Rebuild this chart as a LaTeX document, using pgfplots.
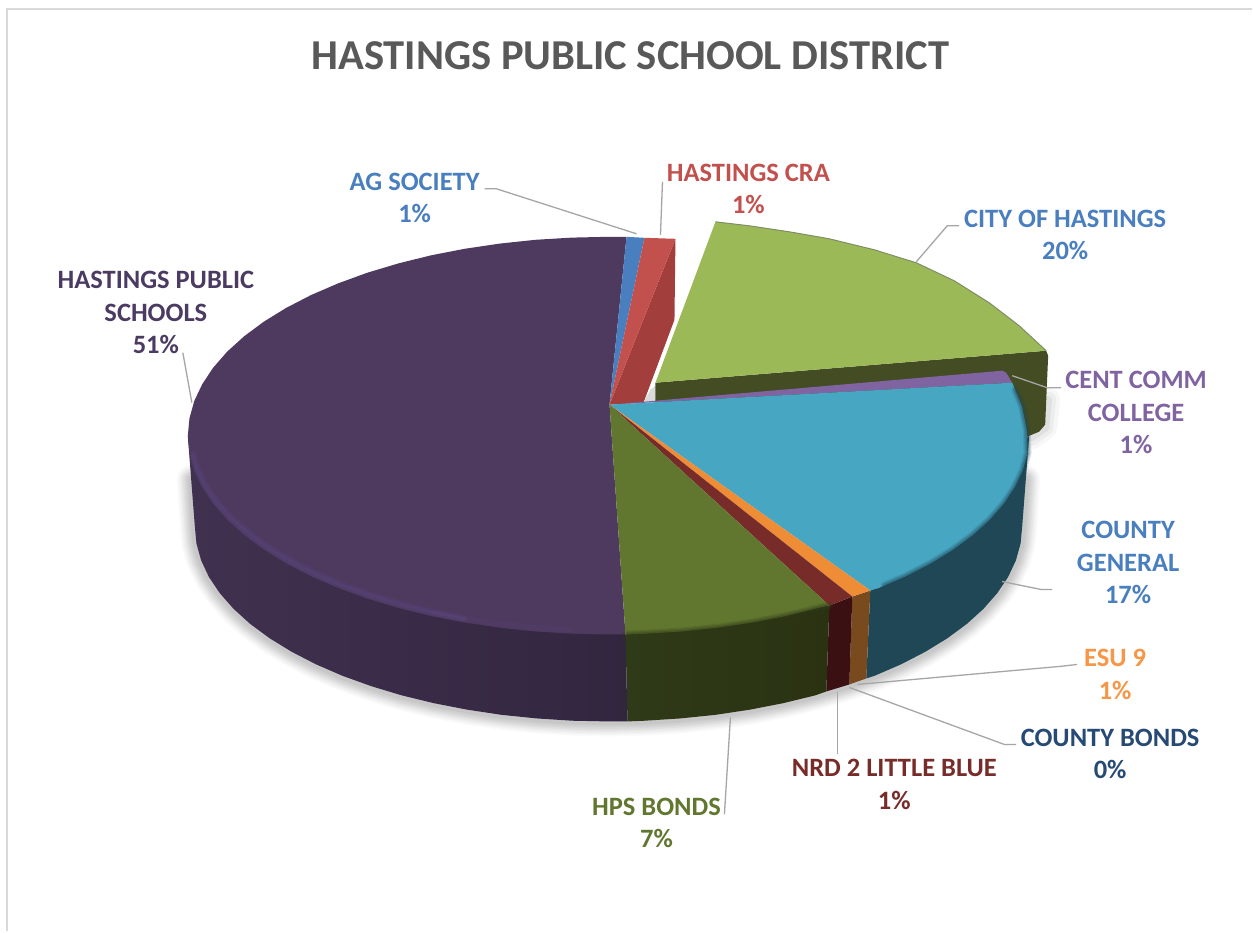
\documentclass[border=0pt]{standalone}
\usepackage{pgfplots}
\usepackage{fontspec}
\setmainfont{Carlito}
\pgfplotsset{compat=1.18}
\tikzset{lab/.style={font=\bfseries\fontsize{26.5}{32.5}\selectfont, align=center, inner sep=0pt}}

\definecolor{frame}{HTML}{D9D9D9}
\definecolor{leader}{HTML}{A6A6A6}
\definecolor{titlegray}{HTML}{595959}
\definecolor{pubTop}{HTML}{4E3A5F}
\definecolor{pubWallL}{HTML}{413150}
\definecolor{pubWallR}{HTML}{32263F}
\definecolor{pubGlow}{HTML}{5E4A85}
\definecolor{agBlue}{HTML}{4A7FBF}
\definecolor{craTop}{HTML}{C2504D}
\definecolor{craWall}{HTML}{A23E3B}
\definecolor{cityTop}{HTML}{9BBA57}
\definecolor{cityEdge}{HTML}{7F8C66}
\definecolor{cityWall}{HTML}{434C22}
\definecolor{collegeTop}{HTML}{8064A2}
\definecolor{genTop}{HTML}{47A7C3}
\definecolor{genWall}{HTML}{1F4756}
\definecolor{esuTop}{HTML}{EF8C36}
\definecolor{esuWall}{HTML}{7A4A1F}
\definecolor{nrdTop}{HTML}{772C2A}
\definecolor{nrdWall}{HTML}{3B1012}
\definecolor{hpsTop}{HTML}{61772F}
\definecolor{hpsWallL}{HTML}{2F3A18}
\definecolor{hpsWallR}{HTML}{2A3212}
\definecolor{bondsText}{HTML}{264A73}
\definecolor{pubText}{HTML}{4B3A62}
\definecolor{esuText}{HTML}{F79646}

% Lower rim of the disc, in pixel coordinates
\pgfplotstableread{
x y
1026 480
1023 527
1021.4 544
1016.7 560.9
1008.9 577.5
998 593.7
984.2 609.4
967.5 624.5
948.1 638.8
926.1 652.3
901.7 664.9
875.1 676.4
846.5 686.7
816 695.9
784 703.7
750.6 710.2
716.1 715.4
680.9 719
645.1 721.3
609 722
572.9 721.3
537.1 719
501.9 715.4
467.4 710.2
434 703.7
402 695.9
371.5 686.7
342.9 676.4
316.3 664.9
291.9 652.3
269.9 638.8
250.5 624.5
233.8 609.4
220 593.7
209.1 577.5
201.3 560.9
196.6 544
195 527
192 480
}\lowerrim

% Corner of the pulled-out slice
\pgfplotstableread{
x y
1049 400
1046 428
1032 438
}\cornerrim

% Bright bevel along the left part of the largest slice
\pgfplotstableread{
x y
193 455
197.4 469.6
205.4 486
216.4 502
230.4 517.6
247.4 532.5
267.1 547.1
289.5 560.9
314 573.7
341 585.2
370 595.7
401 604.8
433.1 612.8
465 619.2
}\bevelrim
\pgfplotstableread{
x y
433.1 612.8
465 619.2
500 624.2
535.9 628
570 630
}\bevelfade

% Front edge of the county general slice
\pgfplotstableread{
x y
1016 390
1023 407
1027.5 430
1028.4 453.3
1023.6 470.6
1015.6 487.5
1004.6 504.1
990.6 520.1
973.6 535.5
953.9 550.1
931.5 563.9
906.7 576.7
885 586
}\tealrim

% Front edge of the HPS bonds slice
\pgfplotstableread{
x y
830 606
786.9 616.4
753 623
718 628.2
682.1 632
645.7 634.2
626 635
}\oliverim

% Outer arc of the pulled-out slice
\pgfplotstableread{
x y
716 222
750 226
790 232
830 239
875 250
917 263
955 281
990 303
1020 326
1047 351
}\cityarc

% A wide translucent stroke along a rim: colour, opacity, width, table
\newcommand{\softstroke}[4]{%
  \addplot[#1, opacity=#2, line width=#3pt, line join=round, line cap=round] table {#4};}

\begin{document}
\begin{tikzpicture}
\begin{axis}[
  scale only axis, width=1253pt, height=932pt,
  xmin=0, xmax=1253, ymin=0, ymax=932, y dir=reverse,
  hide axis, clip=false,
]
% page background, which also sets the size of the picture
\addplot[draw=none, fill=white] coordinates {(0,0) (1253,0) (1253,932) (0,932)} -- cycle;

% outer frame
\addplot[frame, line width=2pt] coordinates {(7,932) (7,9) (1253,9)};

% soft ground shadow
\softstroke{black}{0.02}{30}{\lowerrim}
\softstroke{black}{0.022}{27}{\lowerrim}
\softstroke{black}{0.025}{24}{\lowerrim}
\softstroke{black}{0.028}{21}{\lowerrim}
\softstroke{black}{0.03}{18}{\lowerrim}
\softstroke{black}{0.032}{15}{\lowerrim}
\softstroke{black}{0.035}{12}{\lowerrim}
\softstroke{black}{0.04}{8}{\lowerrim}
\softstroke{black}{0.03}{24}{\cornerrim}
\softstroke{black}{0.04}{16}{\cornerrim}
\softstroke{black}{0.05}{8}{\cornerrim}

% walls of the disc
\addplot[draw=none, fill=genWall] coordinates {
(1030,436) (1023,527) (1021.4,544) (1016.7,560.9) (1008.9,577.5) (998,593.7) (984.2,609.4)
(967.5,624.5) (948.1,638.8) (926.1,652.3) (901.7,664.9) (875.1,676.4) (867,679) (871,591)} -- cycle;
\addplot[draw=none, fill=esuWall] coordinates {(871,591) (867,679) (850,685) (853,597)} -- cycle;
\addplot[draw=none, fill=nrdWall] coordinates {(853,597) (850,685) (827,692) (830,606)} -- cycle;
\addplot[draw=none, left color=hpsWallL, right color=hpsWallR] coordinates {
(830,606) (827,692) (816,695.9) (784,703.7) (750.6,710.2) (716.1,715.4) (680.9,719) (645.1,721.3)
(628,722) (626,635)} -- cycle;
\addplot[draw=none, left color=pubWallL, right color=pubWallR] coordinates {
(626,635) (628,722) (609,722) (572.9,721.3) (537.1,719) (501.9,715.4) (467.4,710.2) (434,703.7)
(402,695.9) (371.5,686.7) (342.9,676.4) (316.3,664.9) (291.9,652.3) (269.9,638.8) (250.5,624.5)
(233.8,609.4) (220,593.7) (209.1,577.5) (201.3,560.9) (196.6,544) (195,527) (188,437)} -- cycle;

% largest slice
\addplot[draw=none, fill=pubTop] coordinates {
(610,405) (626,635) (609,635) (572.3,634.2) (535.9,632) (500,628.2) (465,623) (431.1,616.4)
(398.5,608.3) (367.5,599) (338.4,588.4) (311.3,576.7) (286.5,563.9) (264.1,550.1) (244.4,535.5)
(227.4,520.1) (213.4,504.1) (202.4,487.5) (194.4,470.6) (189.6,453.3) (188,436) (189.6,418.7)
(194.4,401.4) (202.4,384.5) (213.4,367.9) (227.4,351.9) (244.4,336.5) (264.1,321.9) (286.5,308.1)
(311.3,295.3) (338.4,283.6) (367.5,273) (398.5,263.7) (431.1,255.6) (465,249) (500,243.8)
(535.9,240) (572.3,237.8) (609,237) (627,237)} -- cycle;
\softstroke{pubGlow}{0.12}{8}{\bevelrim}
\softstroke{pubGlow}{0.18}{5.5}{\bevelrim}
\softstroke{pubGlow}{0.25}{3}{\bevelrim}
\softstroke{pubGlow}{0.12}{5}{\bevelfade}

% back slices
\addplot[draw=none, fill=agBlue] coordinates {(610,405) (627,237) (645,238)} -- cycle;
\addplot[draw=none, fill=craWall] coordinates {(610,405) (676,239) (675,320) (644,403)} -- cycle;
\addplot[draw=none, fill=craTop] coordinates {(610,405) (645,238) (676,239)} -- cycle;

% pulled-out slice with its cut face
\addplot[draw=none, fill=frame] coordinates {(644,403) (656,402) (656,386) (651,390)} -- cycle;
\addplot[draw=none, fill=cityWall] coordinates {
(656,383) (1047,351) (1049,356) (1046,425) (1040,432) (1028,437) (900,450) (656,405)} -- cycle;
\addplot[draw=none, fill=cityTop] coordinates {
(656,383) (716,222) (750,226) (790,232) (830,239) (875,250) (917,263) (955,281) (990,303) (1020,326) (1047,351)} -- cycle;
\addplot[cityEdge, line width=1pt, line join=round] table {\cityarc};

% front slices
\addplot[draw=none, fill=collegeTop] coordinates {(610,405) (1003,371) (1007,373) (1013,383)} -- cycle;
\addplot[draw=none, fill=genTop] coordinates {
(610,405) (1013,383) (1023,407) (1027.5,430) (1028.4,453.3) (1023.6,470.6) (1015.6,487.5)
(1004.6,504.1) (990.6,520.1) (973.6,535.5) (953.9,550.1) (931.5,563.9) (906.7,576.7) (879.6,588.4) (871,591)} -- cycle;
\addplot[draw=none, fill=esuTop] coordinates {(610,405) (871,591) (853,597)} -- cycle;
\addplot[draw=none, fill=nrdTop] coordinates {(610,405) (853,597) (830,606)} -- cycle;
\addplot[draw=none, fill=hpsTop] coordinates {
(610,405) (830,606) (819.5,608.3) (786.9,616.4) (753,623) (718,628.2) (682.1,632) (645.7,634.2) (626,635)} -- cycle;

% dark soft edges where the top meets the wall
\softstroke{genWall}{0.15}{8}{\tealrim}
\softstroke{genWall}{0.2}{5.5}{\tealrim}
\softstroke{genWall}{0.3}{3}{\tealrim}
\softstroke{hpsWallL}{0.15}{8}{\oliverim}
\softstroke{hpsWallL}{0.2}{5.5}{\oliverim}
\softstroke{hpsWallL}{0.3}{3}{\oliverim}

% leader lines
\addplot[leader, line width=1.3pt] coordinates {(485,189) (497,189) (637,234)};
\addplot[leader, line width=1.3pt] coordinates {(661,235) (663,182)};
\addplot[leader, line width=1.3pt] coordinates {(917,262) (948,226) (960,226)};
\addplot[leader, line width=1.3pt] coordinates {(1013,376) (1048,388) (1062,388)};
\addplot[leader, line width=1.3pt] coordinates {(1003,582) (1042,590) (1053,590)};
\addplot[leader, line width=1.3pt] coordinates {(858,685) (1060,667) (1078,665)};
\addplot[leader, line width=1.3pt] coordinates {(850,688) (1005,745) (1017,745)};
\addplot[leader, line width=1.3pt] coordinates {(838,693) (838,755)};
\addplot[leader, line width=1.3pt] coordinates {(731,718) (725,815)};
\addplot[leader, line width=1.3pt] coordinates {(183,353) (192,403)};

% title and category labels
\node[text=titlegray, inner sep=0pt, font=\bfseries\fontsize{42.6}{50}\selectfont] at (axis cs:631,56) {HASTINGS PUBLIC SCHOOL DISTRICT};
\node[lab, text=agBlue] at (axis cs:415,198) {AG SOCIETY\\1\%};
\node[lab, text=craTop] at (axis cs:749,189) {HASTINGS CRA\\1\%};
\node[lab, text=agBlue] at (axis cs:1066,235) {CITY OF HASTINGS\\20\%};
\node[lab, text=collegeTop] at (axis cs:1137,413) {CENT COMM\\COLLEGE\\1\%};
\node[lab, text=agBlue] at (axis cs:1129,563) {COUNTY\\GENERAL\\17\%};
\node[lab, text=esuText] at (axis cs:1116,675) {ESU 9\\1\%};
\node[lab, text=bondsText] at (axis cs:1111,754.5) {COUNTY BONDS\\0\%};
\node[lab, text=nrdTop] at (axis cs:895,785) {NRD 2 LITTLE BLUE\\1\%};
\node[lab, text=hpsTop] at (axis cs:657,823.5) {HPS BONDS\\7\%};
\node[lab, text=pubText] at (axis cs:156,313) {HASTINGS PUBLIC\\SCHOOLS\\51\%};
\end{axis}
\end{tikzpicture}
\end{document}
